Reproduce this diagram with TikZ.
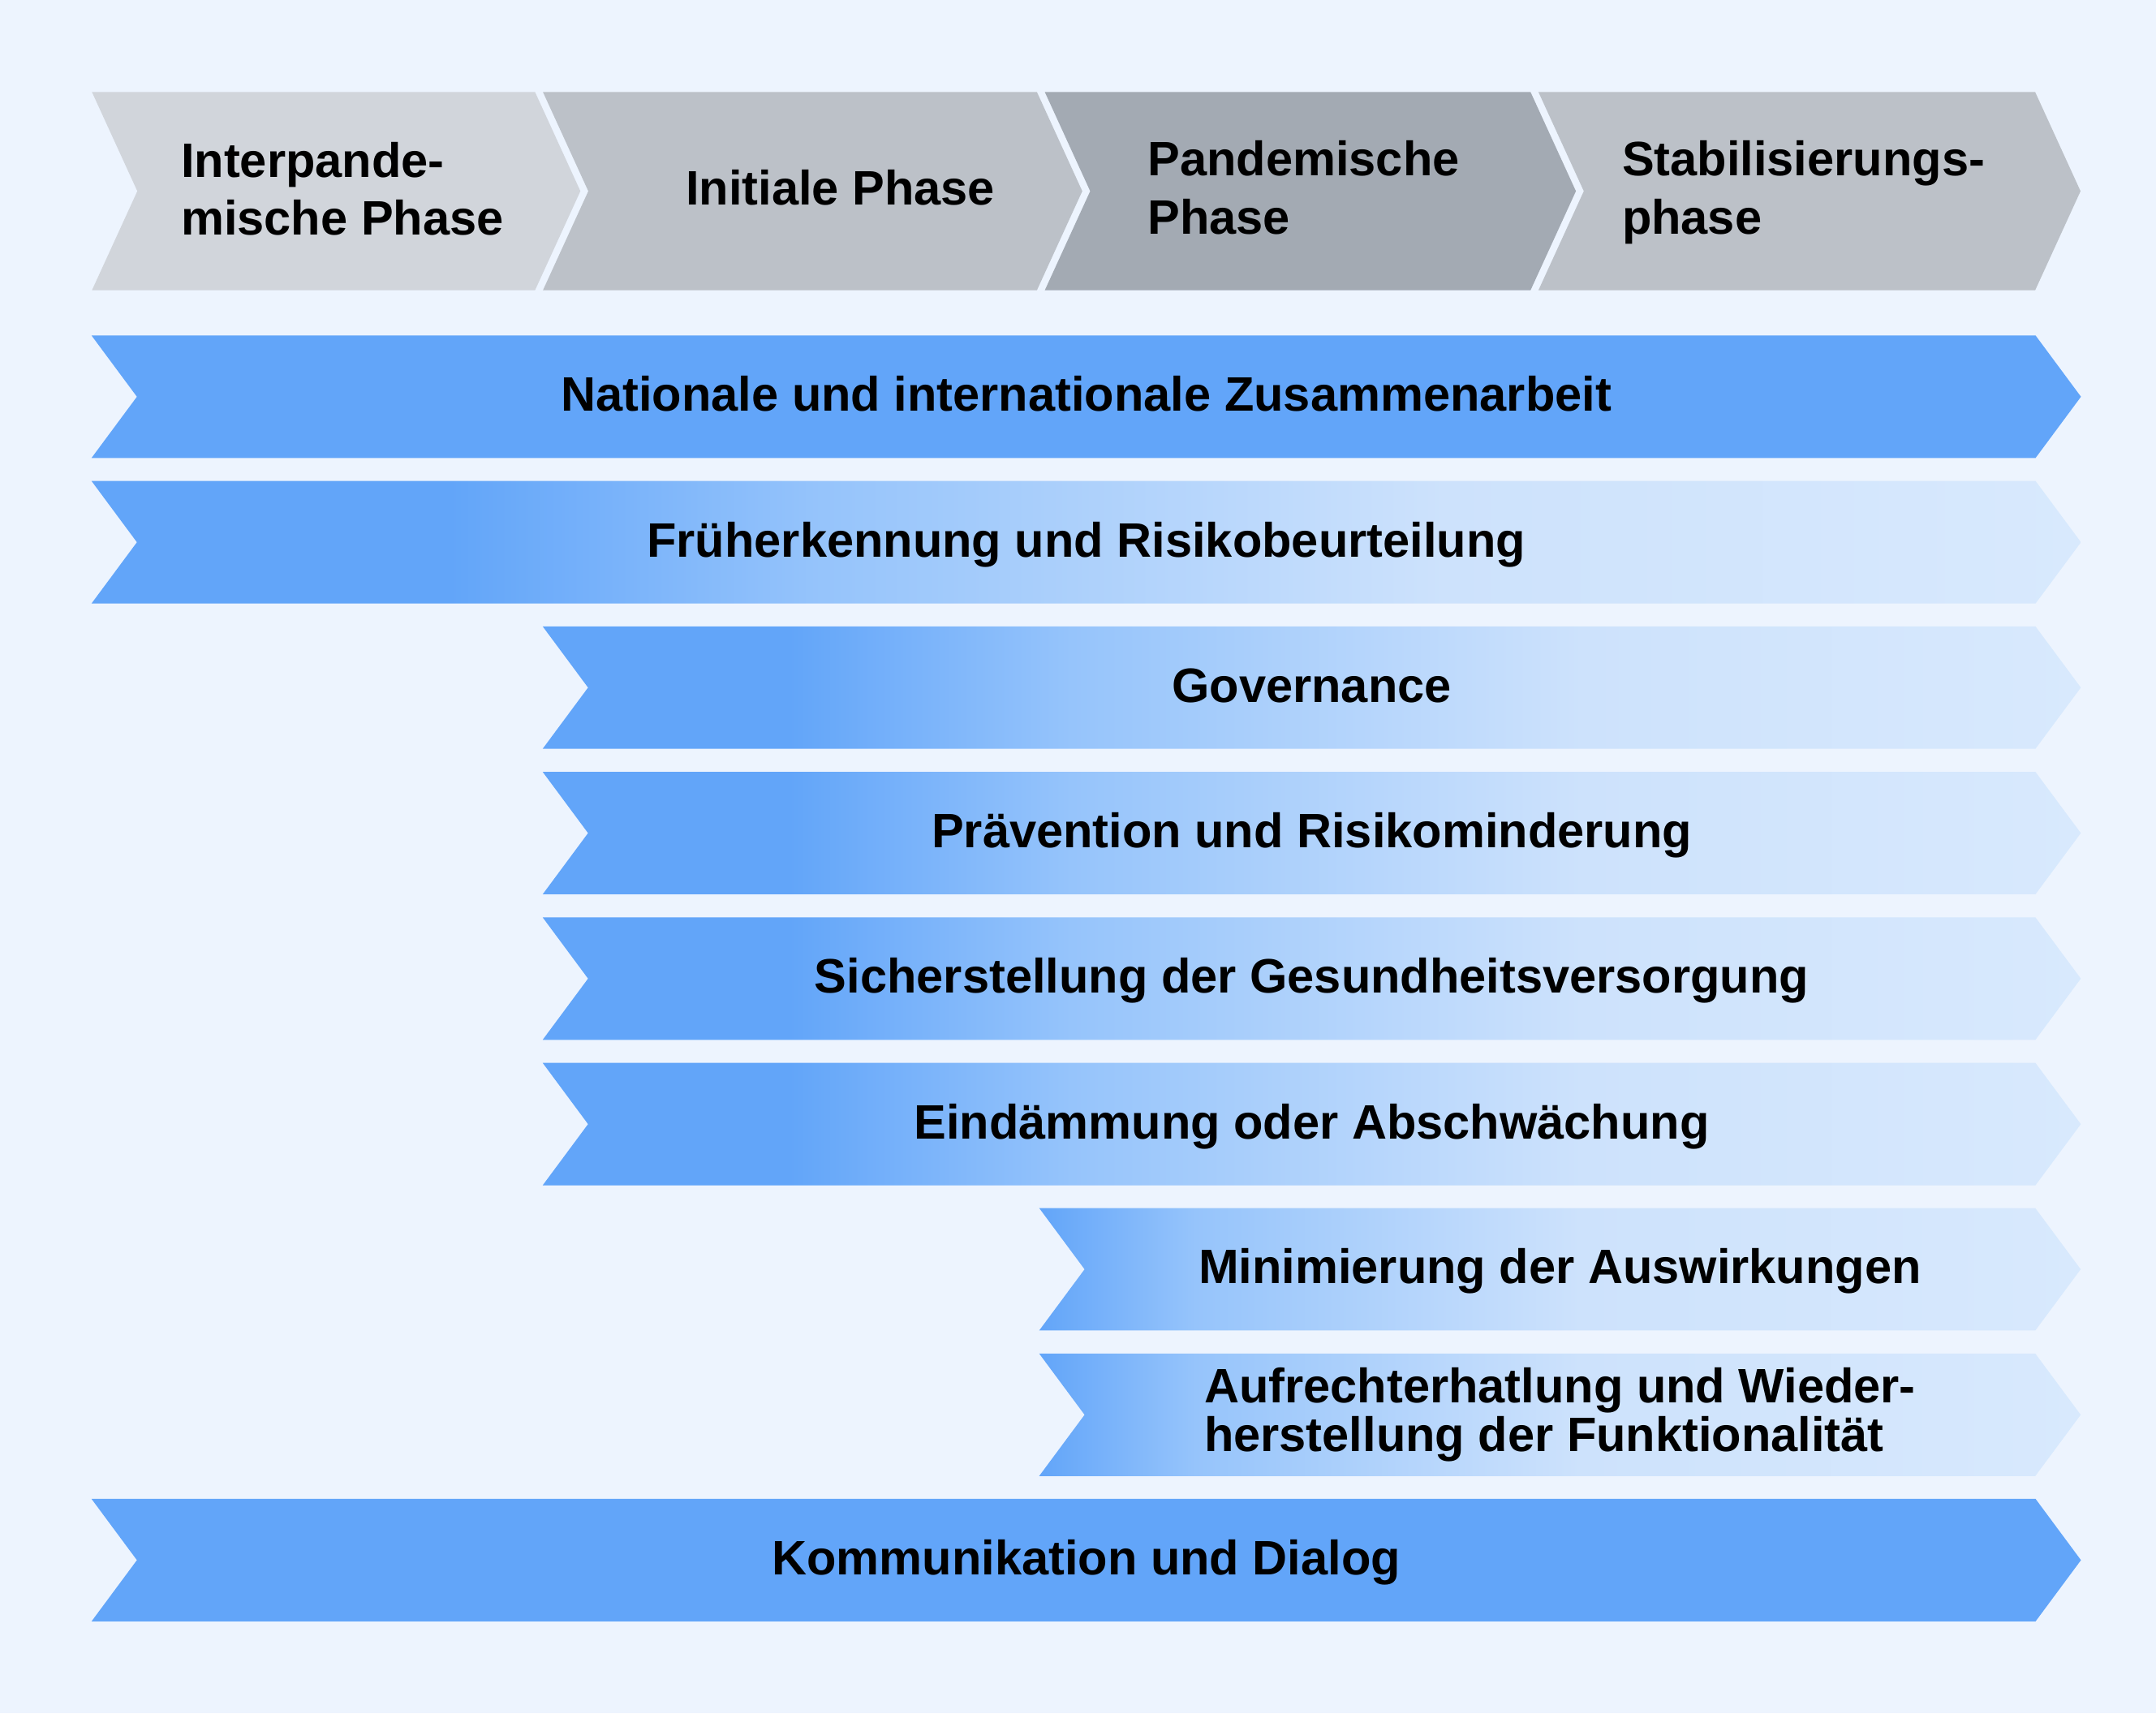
\documentclass[tikz,border=0pt]{standalone}
\usepackage{fontspec}
\setmainfont{Liberation Sans}
\usetikzlibrary{positioning,shapes.symbols}

\definecolor{bgblue}{HTML}{EDF4FE}
\definecolor{phaseA}{HTML}{D1D5DB}
\definecolor{phaseB}{HTML}{BCC1C8}
\definecolor{phaseC}{HTML}{A3AAB3}
\definecolor{barblue}{HTML}{62A5F9}
\definecolor{barmid}{HTML}{96C4FB}
\definecolor{barpale}{HTML}{CDE2FC}
\definecolor{barend}{HTML}{D8E9FD}

% fades for the bars that start in a later phase
\pgfdeclarehorizontalshading{earlyfade}{100bp}{color(0bp)=(barblue); color(34bp)=(barblue); color(43.4bp)=(barmid); color(59bp)=(barpale); color(75bp)=(barend); color(100bp)=(barend)}
\pgfdeclarehorizontalshading{midfade}{100bp}{color(0bp)=(barblue); color(33bp)=(barblue); color(42.2bp)=(barmid); color(58.8bp)=(barpale); color(75bp)=(barend); color(100bp)=(barend)}
\pgfdeclarehorizontalshading{latefade}{100bp}{color(0bp)=(barblue); color(25bp)=(barblue); color(32.5bp)=(barmid); color(51bp)=(barpale); color(75bp)=(barend); color(100bp)=(barend)}

\begin{document}
\begin{tikzpicture}[
      x=0.01cm, y=-0.01cm,
      font=\bfseries\fontsize{10}{12}\selectfont
    ]

    \tikzstyle{phase} = [signal, signal from=west, signal to=east, signal pointer angle=130.8, minimum height=1.44cm, inner sep=0pt, outer sep=0pt]
    \tikzstyle{phasetext} = [anchor=base west, align=left, inner sep=0pt]
    \tikzstyle{bar} = [signal, signal from=west, signal to=east, signal pointer angle=106.9, minimum height=0.89cm, inner sep=0pt, outer sep=0pt, text height=0.7em, text depth=0.1em]
    \tikzstyle{fullbar} = [bar, minimum width=14.46cm]
    \tikzstyle{midbar} = [bar, minimum width=11.18cm, shade, shading=midfade]
    \tikzstyle{latebar} = [bar, minimum width=7.57cm, shade, shading=latefade]

    \fill [bgblue] (0,0) rectangle (1568,1246);
    \useasboundingbox (0,0) rectangle (1568,1246);

    % phases
    \node [phase, fill=phaseA, minimum width=3.55cm] (interpand) at (244.5,139) {};
    \node [phase, fill=phaseB, minimum width=3.92cm] (initial) at (591,139) {};
    \node [phase, fill=phaseC, minimum width=3.86cm] (pandem) at (953,139) {};
    \node [phase, fill=phaseB, minimum width=3.94cm] (stabil) at (1316,139) {};

    \node [phasetext] (interpandtext) at (131,171) {Interpande-\\mische Phase};
    \node [phasetext] (initialtext) at (498,149) {Initiale Phase};
    \node [phasetext] (pandemtext) at (834,170) {Pandemische\\Phase};
    \node [phasetext] (stabiltext) at (1179,170) {Stabilisierungs-\\phase};

    % bars
    \node [fullbar, fill=barblue] (nat) at (790,288.5) {
        Nationale und internationale Zusammenarbeit
        };
    \node [fullbar, shade, shading=earlyfade] (frueh) [below=0.1675cm of nat] {
        Früherkennung und Risikobeurteilung
        };
    \node [midbar] (gov) at (954,500) {
        Governance
        };
    \node [midbar] (praev) [below=0.1675cm of gov] {
        Prävention und Risikominderung
        };
    \node [midbar] (sicher) [below=0.1675cm of praev] {
        Sicherstellung der Gesundheitsversorgung
        };
    \node [midbar] (eindaemm) [below=0.1675cm of sicher] {
        Eindämmung oder Abschwächung
        };
    \node [latebar] (minim) at (1134.5,923) {
        Minimierung der Auswirkungen
        };
    \node [latebar, text height={}, text depth={}, align=left, font=\bfseries\fontsize{10}{10}\selectfont] (aufrecht) [below=0.1675cm of minim] {
        Aufrechterhatlung und Wieder-\\herstellung der Funktionalität
        };
    \node [fullbar, fill=barblue] (komm) at (790,1134.5) {
        Kommunikation und Dialog
        };

\end{tikzpicture}
\end{document}
